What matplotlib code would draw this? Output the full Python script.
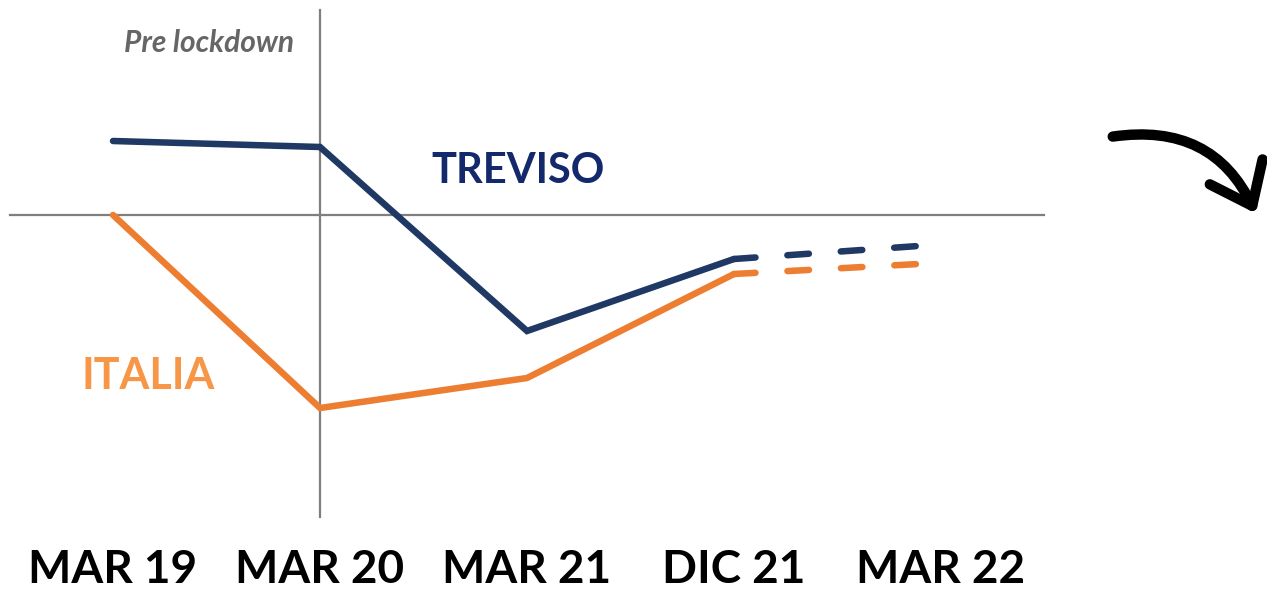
import numpy as np
import matplotlib.pyplot as plt

# dati (valori indicativi, scala arbitraria: 0 = pre lockdown)
periodi = ['MAR 19', 'MAR 20', 'MAR 21', 'DIC 21', 'MAR 22']
x_periodi = [0, 1, 2, 3, 4]

x_reale = [0, 1, 2, 3]
treviso = [7.4, 6.8, -11.6, -4.4]
italia = [0.0, -19.3, -16.3, -5.9]

# proiezione tratteggiata
x_proiez = [3, 3.89]
treviso_proiez = [-4.4, -3.1]
italia_proiez = [-5.9, -4.9]

col_treviso = '#1f3864'
col_italia = '#ed7d31'

fig = plt.figure(figsize=(12.67, 5.91), dpi=100)
ax = fig.add_axes([0, 0, 1, 1])
ax.set_xlim(-0.546, 5.575)
ax.set_ylim(-37.6, 21.5)
ax.axis('off')

# assi a croce
ax.plot([-0.498, 4.50], [0, 0], color='#7f7f7f', lw=1.6, zorder=1)
ax.plot([1.0, 1.0], [20.5, -30.2], color='#7f7f7f', lw=1.6, zorder=1)

# linee
ax.plot(x_reale, treviso, color=col_treviso, lw=4.7, solid_capstyle='round',
        solid_joinstyle='miter', zorder=3)
ax.plot(x_reale, italia, color=col_italia, lw=4.7, solid_capstyle='round',
        solid_joinstyle='miter', zorder=3)
ax.plot(x_proiez, treviso_proiez, color=col_treviso, lw=4.7, dash_capstyle='round',
        dashes=(3.3, 4.9), zorder=3)
ax.plot(x_proiez, italia_proiez, color=col_italia, lw=4.7, dash_capstyle='round',
        dashes=(3.3, 4.9), zorder=3)

# etichette periodi
for xp, lab in zip(x_periodi, periodi):
    ax.text(xp, -35.5, lab, ha='center', va='center', fontsize=33,
            fontweight='bold', family='Lato', color='black')

ax.text(1.957, 4.4, 'TREVISO', ha='center', va='center', fontsize=30,
        fontweight='bold', family='Lato', color='#13296b')
ax.text(0.17, -16.1, 'ITALIA', ha='center', va='center', fontsize=31,
        fontweight='bold', family='Lato', color='#f79646')
ax.text(0.464, 17.2, 'Pre lockdown', ha='center', va='center', fontsize=21.5,
        fontweight='bold', style='italic', family='Lato', color='#666666')

# freccia decorativa
ax.annotate('', xy=(1257 / 1267, 1 - 216 / 591), xytext=(1110 / 1267, 1 - 137 / 591),
            xycoords='figure fraction', textcoords='figure fraction',
            arrowprops=dict(arrowstyle='->,head_length=2.7,head_width=2.1',
                            connectionstyle='arc3,rad=-0.38', lw=7.5,
                            color='black', capstyle='round', joinstyle='round'))

plt.savefig('out.png', dpi=100)
